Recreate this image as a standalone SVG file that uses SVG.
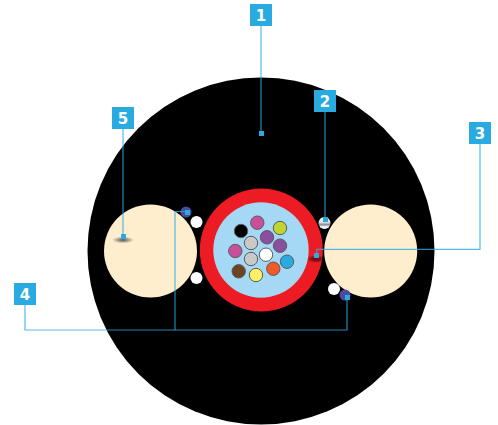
<svg xmlns="http://www.w3.org/2000/svg" width="498" height="425" viewBox="0 0 498 425">
<style>
.f{stroke:#5a5a5a;stroke-width:1}
.b{fill:#29abe2}
.t{font:bold 15px "DejaVu Sans",sans-serif;fill:#fff;text-anchor:middle}
.l{fill:none;stroke:#29abe2;stroke-opacity:.8;stroke-width:1.2}
.d{fill:#29abe2}
</style>
<defs>
<radialGradient id="sh"><stop offset="0" stop-color="#555"/><stop offset="1" stop-color="#555" stop-opacity="0"/></radialGradient>
<radialGradient id="shr"><stop offset="0" stop-color="#5c060b"/><stop offset=".5" stop-color="#7a0a10" stop-opacity=".8"/><stop offset="1" stop-color="#7a0a10" stop-opacity="0"/></radialGradient>
<linearGradient id="w" x1="0" y1="0" x2="0" y2="1"><stop offset="0" stop-color="#fff"/><stop offset=".45" stop-color="#ddd"/><stop offset=".65" stop-color="#8a8a96"/><stop offset=".8" stop-color="#eee"/><stop offset="1" stop-color="#fff"/></linearGradient>
<clipPath id="rc"><circle cx="261.300" cy="250" r="61.500"/></clipPath>
</defs>
<g id="cable">
<circle cx="261" cy="251" r="173.500" fill="#000"/>
<circle cx="150.500" cy="251" r="46.500" fill="#ffeecd"/>
<circle cx="370.700" cy="251" r="46.500" fill="#ffeecd"/>
<ellipse cx="123" cy="240" rx="11" ry="3.500" fill="url(#sh)"/>
<circle cx="196.500" cy="222" r="6" fill="#fff"/>
<circle cx="196.500" cy="278" r="6" fill="#fff"/>
<circle cx="334" cy="289" r="6" fill="#fff"/>
<circle cx="324.500" cy="223" r="6" fill="url(#w)"/>
<circle cx="186" cy="212" r="5.500" fill="#4b4a9f"/>
<circle cx="345" cy="295" r="5.500" fill="#4b4a9f"/>
<circle cx="261.300" cy="250" r="61.500" fill="#ed1c24"/>
<ellipse cx="316" cy="259" rx="10" ry="4" fill="url(#shr)" clip-path="url(#rc)"/>
<circle cx="261" cy="250" r="47.700" fill="#a4d8f5"/>
</g>
<g id="fibers" class="f">
<circle cx="257.300" cy="222.700" r="6.700" fill="#c7509b"/>
<circle cx="241" cy="231" r="6.700" fill="#000"/>
<circle cx="280" cy="228" r="6.700" fill="#c2d52f"/>
<circle cx="267" cy="237.300" r="6.700" fill="#8a4f9f"/>
<circle cx="251" cy="243" r="6.700" fill="#c9c9c9"/>
<circle cx="280" cy="245.700" r="6.700" fill="#8a4f9f"/>
<circle cx="235.300" cy="251" r="6.700" fill="#c7509b"/>
<circle cx="251" cy="259" r="6.700" fill="#c9c9c9"/>
<circle cx="266" cy="254.700" r="6.700" fill="#fff"/>
<circle cx="287" cy="261.700" r="6.700" fill="#29abe2"/>
<circle cx="238.700" cy="271.300" r="6.700" fill="#6b4522"/>
<circle cx="256" cy="275" r="6.700" fill="#fff066"/>
<circle cx="273.300" cy="268.700" r="6.700" fill="#f15a24"/>
</g>
<g id="connectors">
<path class="l" d="M261 26V133"/>
<path class="l" d="M325 112V220"/>
<path class="l" d="M480 144V249.400H316.700V255"/>
<path class="l" d="M25 305V330H347V296"/>
<path class="l" d="M175 330V211.500H187"/>
<path class="l" d="M123 129V236"/>
<rect class="d" x="259" y="131" width="5" height="5"/>
<rect class="d" x="323" y="217" width="5" height="5"/>
<rect class="d" x="314" y="253" width="5" height="5"/>
<rect class="d" x="345" y="295" width="5" height="5"/>
<rect class="d" x="185" y="210" width="5" height="5"/>
<rect class="d" x="121" y="234" width="5" height="5"/>
</g>
<g id="label1"><rect class="b" x="250" y="4" width="22" height="22"/><text class="t" x="261" y="20.500">1</text></g>
<g id="label2"><rect class="b" x="314" y="90" width="22" height="22"/><text class="t" x="325" y="106.500">2</text></g>
<g id="label3"><rect class="b" x="469" y="122" width="22" height="22"/><text class="t" x="480" y="138.500">3</text></g>
<g id="label4"><rect class="b" x="14" y="283" width="22" height="22"/><text class="t" x="25" y="299.500">4</text></g>
<g id="label5"><rect class="b" x="112" y="107" width="22" height="22"/><text class="t" x="123" y="123.500">5</text></g>
</svg>
